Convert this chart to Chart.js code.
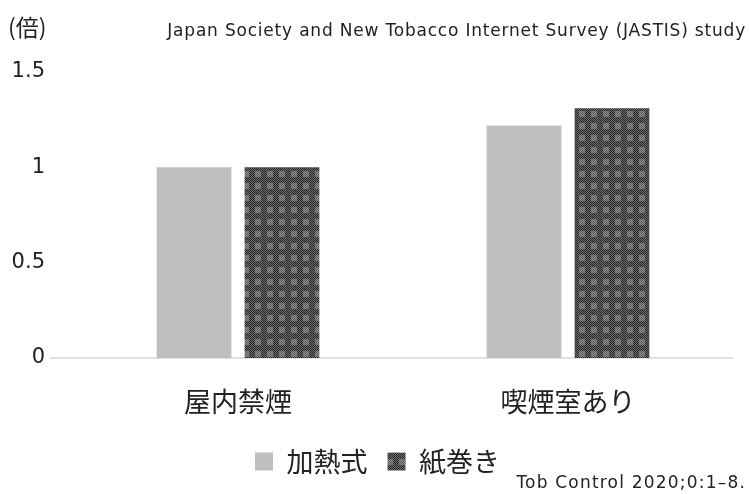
<!DOCTYPE html>
<html>
<head>
<meta charset="utf-8">
<script src="https://cdn.jsdelivr.net/npm/chart.js@4.4.1/dist/chart.umd.min.js"></script>
<style>
html,body{margin:0;padding:0;background:#fff;}
canvas{display:block;}
</style>
</head>
<body>
<canvas id="c" width="749" height="494"></canvas>
<script>
const categories = ['屋内禁煙', '喫煙室あり'];
const seriesNames = ['加熱式', '紙巻き'];
const heated = [1.0, 1.22];
const cigarettes = [1.0, 1.31];
const yTicks = [0, 0.5, 1, 1.5];
const titleText = 'Japan Society and New Tobacco Internet Survey (JASTIS) study';
const unitText = '(倍)';
const sourceText = 'Tob Control 2020;0:1–8.';

const CJK = '"Noto Sans CJK JP", sans-serif';
const LAT = '"DejaVu Sans", Verdana, sans-serif';

function makePattern() {
  const t = document.createElement('canvas');
  t.width = 12; t.height = 12;
  const g = t.getContext('2d');
  for (let y = 0; y < 12; y++) {
    for (let x = 0; x < 12; x++) {
      const inner = x >= 3 && x <= 8 && y >= 3 && y <= 8;
      const odd = (x + y) % 2 === 1;
      let c;
      if (inner) c = odd ? '#8a8a8a' : '#626262';
      else c = odd ? '#6e6e6e' : '#262626';
      g.fillStyle = c;
      g.fillRect(x, y, 1, 1);
    }
  }
  return document.getElementById('c').getContext('2d').createPattern(t, 'repeat');
}
const pattern = makePattern();

const extras = {
  id: 'extras',
  beforeDatasetsDraw(chart) {
    const ctx = chart.ctx;
    const y = chart.scales.y.getPixelForValue(0);
    ctx.save();
    ctx.strokeStyle = '#d9d9d9';
    ctx.lineWidth = 1.5;
    ctx.beginPath();
    ctx.moveTo(50, y);
    ctx.lineTo(chart.chartArea.right, y);
    ctx.stroke();
    ctx.restore();
  },
  afterDraw(chart) {
    const ctx = chart.ctx;
    ctx.save();
    ctx.fillStyle = '#222';
    ctx.textBaseline = 'middle';
    ctx.font = '23px ' + CJK;
    ctx.textAlign = 'left';
    ctx.fillText(unitText, 8, 27);
    ctx.font = '17px ' + LAT;
    ctx.textAlign = 'right';
    ctx.letterSpacing = '0.8px';
    ctx.fillText(titleText, 746, 32);
    ctx.letterSpacing = '1.2px';
    ctx.fillText(sourceText, 746, 484);
    ctx.restore();
  }
};

new Chart(document.getElementById('c'), {
  type: 'bar',
  data: {
    labels: categories,
    datasets: [
      { label: seriesNames[0], data: heated, backgroundColor: '#bfbfbf', borderWidth: 0 },
      { label: seriesNames[1], data: cigarettes, backgroundColor: pattern, borderWidth: 0 }
    ]
  },
  options: {
    responsive: false,
    devicePixelRatio: 1,
    animation: false,
    categoryPercentage: 0.533,
    barPercentage: 0.85,
    layout: { padding: { top: 72, right: 0, left: 6, bottom: 9 } },
    plugins: {
      tooltip: { enabled: false },
      legend: {
        position: 'bottom',
        labels: {
          boxWidth: 18, boxHeight: 18, padding: 20,
          color: '#222',
          font: { family: CJK, size: 27 }
        }
      }
    },
    scales: {
      x: {
        grid: { display: false, drawTicks: false },
        border: { display: false },
        ticks: { color: '#222', font: { family: CJK, size: 27 }, padding: 28 },
        afterFit(s) { s.height = 70; }
      },
      y: {
        min: 0, max: 1.5,
        grid: { display: false, drawTicks: false },
        border: { display: false },
        afterBuildTicks(s) { s.ticks = yTicks.map(v => ({ value: v })); },
        ticks: { color: '#222', font: { family: LAT, size: 21 }, padding: 28, callback: v => String(v) },
        afterFit(s) { s.width = 67; }
      },
      yRight: {
        type: 'linear',
        position: 'right',
        min: 0, max: 1.5,
        grid: { display: false, drawTicks: false },
        border: { display: false },
        ticks: { display: false },
        afterFit(s) { s.width = 16; }
      }
    }
  },
  plugins: [extras]
});
</script>
</body>
</html>
